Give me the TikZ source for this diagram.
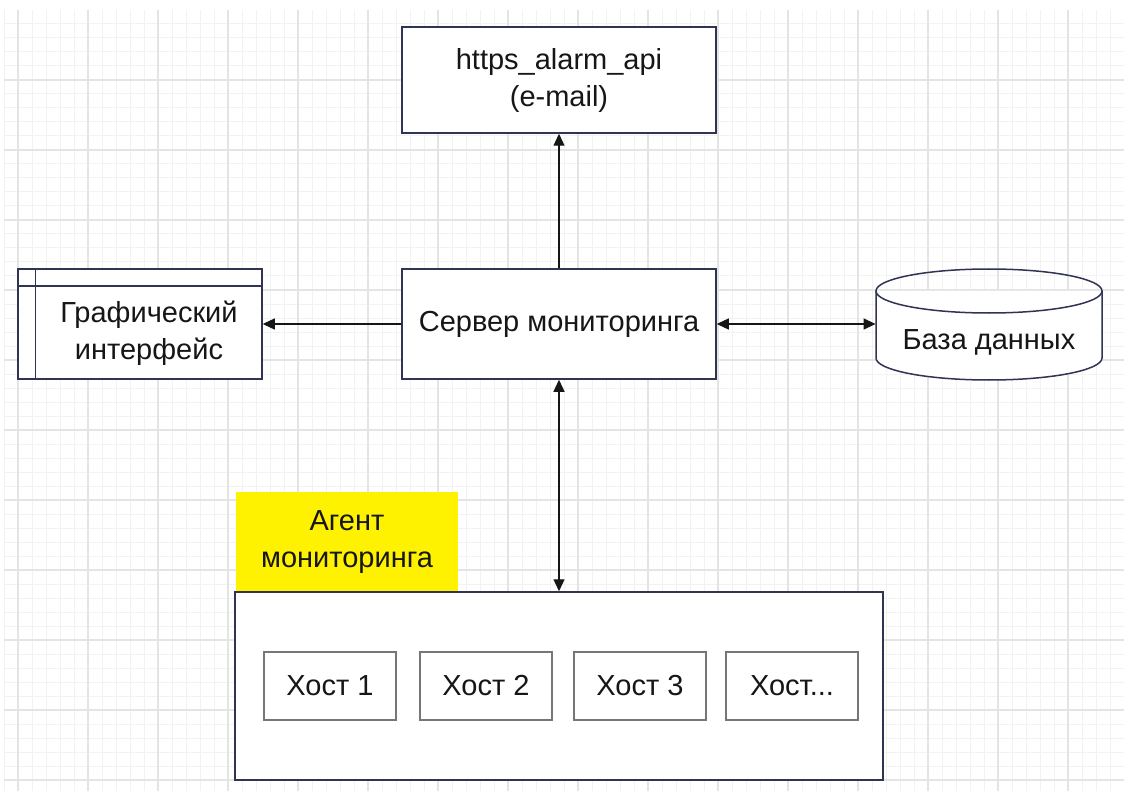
\documentclass[tikz,border=0pt]{standalone}
\usepackage{fontspec}
\setmainfont{Liberation Sans}
\usetikzlibrary{arrows.meta}

\definecolor{rejilla}{RGB}{242,242,242}
\definecolor{rejillafuerte}{RGB}{228,228,228}
\definecolor{borde}{RGB}{48,52,82}
\definecolor{bordehost}{RGB}{118,118,118}
\definecolor{texto}{RGB}{22,22,22}

\tikzset{
  caja/.style={draw=borde, line width=0.75pt, fill=white, inner sep=0pt,
    align=center, text=texto, font=\fontsize{14.5pt}{18.5pt}\selectfont},
  host/.style={caja, draw=bordehost, minimum width=66pt, minimum height=34pt},
  flecha/.style={line width=0.65pt, draw=texto,
    -{Triangle[length=6pt,width=5.5pt]}},
  doble/.style={flecha, {Triangle[length=6pt,width=5.5pt]}-{Triangle[length=6pt,width=5.5pt]}}
}

\begin{document}
\begin{tikzpicture}[x=0.5pt,y=-0.5pt]
  \useasboundingbox (0,0) rectangle (1124,791);
  \fill[white] (0,0) rectangle (1124,791);

  % Cuadrícula de fondo
  \foreach \gx in {4,18,...,1124} \draw[rejilla,line width=0.5pt] (\gx,10) -- (\gx,791);
  \foreach \gy in {24,38,...,791} \draw[rejilla,line width=0.5pt] (4,\gy) -- (1124,\gy);
  \foreach \gx in {18,88,...,1124} \draw[rejillafuerte,line width=0.7pt] (\gx,10) -- (\gx,791);
  \foreach \gy in {80,150,...,791} \draw[rejillafuerte,line width=0.7pt] (4,\gy) -- (1124,\gy);

  % Servidor y API de alarmas
  \node[caja, minimum width=157pt, minimum height=53pt] (api) at (559,80)
    {https\_alarm\_api\\(e-mail)};
  \node[caja, minimum width=157pt, minimum height=55pt] (server) at (559,324)
    {Сервер мониторинга};

  % Interfaz gráfica
  \node[caja, minimum width=122pt, minimum height=55pt] (gui) at (140,324) {};
  \draw[borde, line width=0.75pt] ([xshift=9pt]gui.north west) -- ([xshift=9pt]gui.south west);
  \draw[borde, line width=0.75pt] ([yshift=-9pt]gui.north west) -- ([yshift=-9pt]gui.north east);
  \node[align=center, text=texto, font=\fontsize{14.5pt}{18.5pt}\selectfont] (guitext) at (149,333)
    {Графический\\интерфейс};

  % Base de datos
  \node[minimum width=113pt, minimum height=55pt, inner sep=0pt] (db) at (989,324) {};
  \draw[borde, line width=0.75pt, fill=white] (876,291) -- (876,358)
    arc[start angle=180, end angle=360, x radius=56.5pt, y radius=11pt] -- (1102,291);
  \draw[borde, line width=0.75pt] (989,291) ellipse [x radius=56.5pt, y radius=11pt];
  \node[text=texto, font=\fontsize{14.5pt}{18.5pt}\selectfont] (dbtext) at (989,342) {База данных};

  % Agente y hosts
  \node[fill=yellow, minimum width=111pt, minimum height=50pt, align=center, text=texto,
    font=\fontsize{14.5pt}{18.5pt}\selectfont] (agent) at (347,542) {Агент\\мониторинга};
  \node[caja, draw=borde, minimum width=324pt, minimum height=94pt] (hosts) at (559,686) {};
  \node[host] (h1) at (330,686) {Хост 1};
  \node[host] (h2) at (486,686) {Хост 2};
  \node[host] (h3) at (640,686) {Хост 3};
  \node[host] (h4) at (792,686) {Хост...};

  % Flechas
  \draw[flecha] (server.north) -- (api.south);
  \draw[flecha] (server.west) -- (gui.east);
  \draw[doble] (server.east) -- (db.west);
  \draw[doble] (server.south) -- (hosts.north);
\end{tikzpicture}
\end{document}
